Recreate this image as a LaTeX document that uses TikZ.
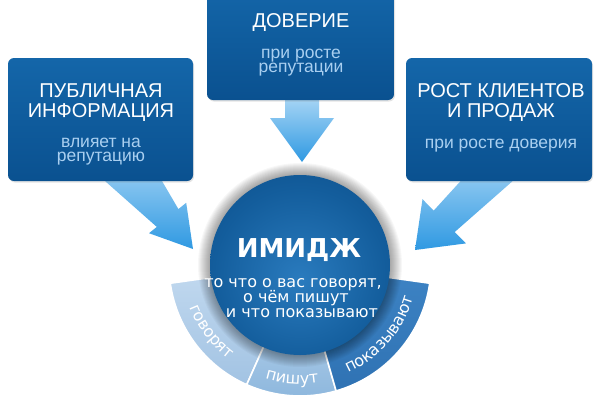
\documentclass[tikz,border=0pt]{standalone}
\usepackage{fontspec}
\setmainfont{Liberation Sans}
\newfontfamily\dejavu{DejaVu Sans}
\usetikzlibrary{decorations.text,shadows}
\definecolor{boxtop}{HTML}{1466A9}
\definecolor{boxbot}{HTML}{0A5190}
\definecolor{subtxt}{HTML}{A9CFF0}
\definecolor{arrtop}{HTML}{B5DCF7}
\definecolor{arrbot}{HTML}{2F99E2}
\definecolor{ringAl}{HTML}{BFD7EE}
\definecolor{ringA}{HTML}{A2C3E3}
\definecolor{ringB}{HTML}{8DB7DD}
\definecolor{ringBl}{HTML}{A4C6E5}
\definecolor{ringC}{HTML}{3C82C3}
\definecolor{ringCd}{HTML}{2F72B3}
\definecolor{ballA}{HTML}{2A7BBE}
\definecolor{ballB}{HTML}{135D9C}
\definecolor{ballC}{HTML}{09427A}
\pgfdeclareradialshading{imageball}{\pgfpoint{0bp}{-4bp}}{color(0bp)=(ballA); color(24bp)=(ballB); color(50bp)=(ballC); color(60bp)=(ballC)}
\newcommand\ringfont{\dejavu\fontsize{16}{16}\selectfont}
\begin{document}
\begin{tikzpicture}[x=1pt,y=-1pt,
  panel/.style={rectangle, rounded corners=6pt, top color=boxtop, bottom color=boxbot,
    draw=none, inner sep=0pt, drop shadow={opacity=0.22, shadow xshift=1pt, shadow yshift=-1.5pt}},
  ttl/.style={text=white, font=\fontsize{20}{20}\selectfont, anchor=base, inner sep=0pt},
  sub/.style={text=subtxt, font=\fontsize{17.5}{17.5}\selectfont, anchor=base, inner sep=0pt},
  balltxt/.style={text=white, font=\dejavu\fontsize{16}{16}\selectfont, anchor=base, inner sep=0pt},
  bigarrow/.style={top color=arrtop, bottom color=arrbot, draw=none},
  seg/.style={draw=white, line width=1.6pt, line join=miter},
  ringlabel/.style={decorate, decoration={text along path, text align=center, text color=white}}
]
\useasboundingbox (0,0) rectangle (600,400);
\fill[white] (0,0) rectangle (600,400);
\clip (0,0) rectangle (600,400);

% arrows (behind boxes)
\shade[bigarrow] (140.1,143.5) -- (178.4,209.1) -- (186.2,202.8) -- (193,249)
  -- (149,233.2) -- (156.8,226.9) -- (99.9,176.5) -- cycle;
\shade[bigarrow] (285,90) -- (285,118) -- (270,118) -- (302,162) -- (334,118)
  -- (319,118) -- (319,90) -- cycle;
\shade[bigarrow] (494.4,143.9) -- (433.7,210.6) -- (422.5,199.2) -- (415,250)
  -- (465.9,243.4) -- (454.7,232) -- (522.4,172.5) -- cycle;

% boxes
\node[panel, minimum width=185pt, minimum height=123pt] (pub) at (100.5,119.5) {};
\node[panel, minimum width=187pt, minimum height=115pt] (dov) at (300.5,42.5) {};
\node[panel, minimum width=186pt, minimum height=123pt] (ros) at (499,119.5) {};

\node[ttl] (pubA) at (101,97) {ПУБЛИЧНАЯ};
\node[ttl] (pubB) at (101,117) {ИНФОРМАЦИЯ};
\node[sub] (pubC) at (101,147) {влияет на};
\node[sub] (pubD) at (101,161) {репутацию};

\node[ttl] (dovA) at (301,27) {ДОВЕРИЕ};
\node[sub] (dovB) at (301,58) {при росте};
\node[sub] (dovC) at (301,72) {репутации};

\node[ttl] (rosA) at (501,97) {РОСТ КЛИЕНТОВ};
\node[ttl] (rosB) at (501,117) {И ПРОДАЖ};
\node[sub] (rosC) at (501,148) {при росте доверия};

% ring
\begin{scope}[shift={(300,265)}, x=1pt, y=1pt]
  \shade[seg, top color=ringAl, bottom color=ringA]
    (188:88) arc[start angle=188, end angle=246, radius=88]
    -- (246:131) arc[start angle=246, end angle=188, radius=131] -- cycle;
  \shade[seg, top color=ringBl, bottom color=ringB]
    (246:88) arc[start angle=246, end angle=286, radius=88]
    -- (286:131) arc[start angle=286, end angle=246, radius=131] -- cycle;
  \shade[seg, top color=ringC, bottom color=ringCd]
    (286:88) arc[start angle=286, end angle=352, radius=88]
    -- (352:131) arc[start angle=352, end angle=286, radius=131] -- cycle;
  \path[ringlabel, decoration={text={|\ringfont|говорят}}]
    (188:118) arc[start angle=188, end angle=246, radius=118];
  \path[ringlabel, decoration={text={|\ringfont|пишут}}]
    (246:119) arc[start angle=246, end angle=286, radius=119];
  \path[ringlabel, decoration={text={|\ringfont|показывают}}]
    (286:118) arc[start angle=286, end angle=352, radius=118];
\end{scope}

% halo and ball
\foreach \r in {91,92,...,102} \fill[black, opacity=0.03] (300,265) circle (\r);
\node[circle, minimum size=180pt, inner sep=0pt, shading=imageball] (ball) at (300,265) {};

\node[text=white, font=\dejavu\bfseries\fontsize{26}{26}\selectfont, anchor=base, inner sep=0pt] (imA) at (299,257) {ИМИДЖ};
\node[balltxt] (imB) at (293,287) {то что о вас говорят,};
\node[balltxt] (imC) at (296,302) {о чём пишут};
\node[balltxt] (imD) at (302,317) {и что показывают};
\end{tikzpicture}
\end{document}
